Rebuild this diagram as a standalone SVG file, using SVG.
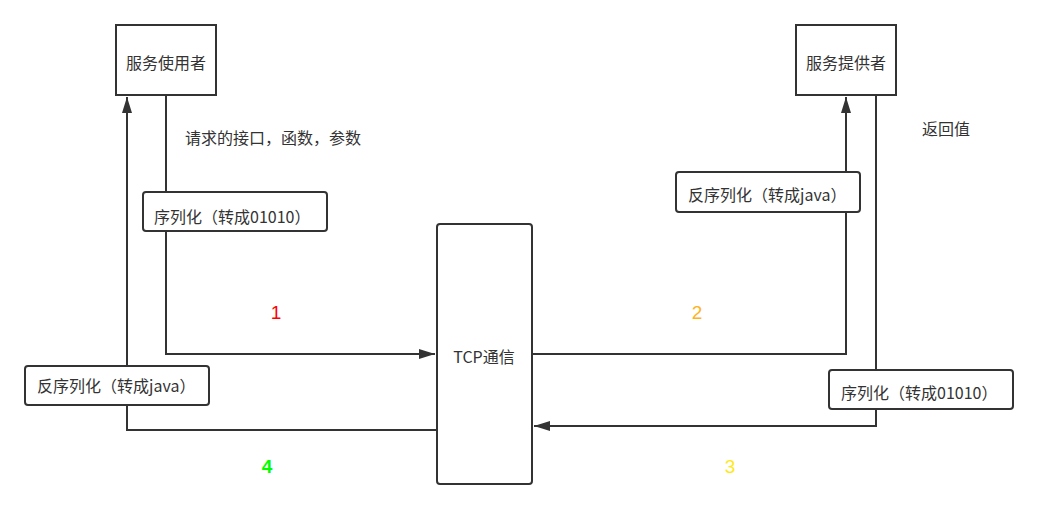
<svg xmlns="http://www.w3.org/2000/svg" width="1038" height="509" viewBox="0 0 1038 509">
<style>
.box{fill:#fff;stroke:#333;stroke-width:2}
.lbl{fill:#fff;stroke:#333;stroke-width:2}
.t{font-family:"Noto Sans CJK SC","Liberation Sans",sans-serif;font-size:16px;fill:#333}
.n{font-family:"Liberation Sans","Noto Sans CJK SC",sans-serif;font-size:19px;text-anchor:middle}
.c{fill:none;stroke:#333;stroke-width:2}
</style>
<defs>
<marker id="a" viewBox="0 0 16 10" refX="16" refY="5" markerWidth="16" markerHeight="10" markerUnits="userSpaceOnUse" orient="auto">
<path d="M0,0 L16,5 L0,10 Z" fill="#333"/>
</marker>
</defs>
<g id="connectors">
<path class="c" d="M166,95 V354 H435" marker-end="url(#a)"/>
<path class="c" d="M532,354 H846 V97" marker-end="url(#a)"/>
<path class="c" d="M876,93 V426 H534" marker-end="url(#a)"/>
<path class="c" d="M436,430 H127 V97" marker-end="url(#a)"/>
</g>
<g id="consumer">
<rect class="box" x="116" y="25" width="100" height="70"/>
<text class="t" x="166" y="69" text-anchor="middle">服务使用者</text>
</g>
<g id="provider">
<rect class="box" x="796" y="25" width="100" height="70"/>
<text class="t" x="846" y="69" text-anchor="middle">服务提供者</text>
</g>
<g id="tcp">
<rect class="box" x="437" y="224" width="95" height="260" rx="3"/>
<text class="t" x="484" y="363" text-anchor="middle">TCP通信</text>
</g>
<g id="ser1">
<rect class="lbl" x="143" y="192" width="184" height="39" rx="3"/>
<text class="t" x="154" y="223">序列化（转成01010）</text>
</g>
<g id="deser2">
<rect class="lbl" x="676" y="172" width="184" height="40" rx="3"/>
<text class="t" x="688" y="201">反序列化（转成java）</text>
</g>
<g id="ser3">
<rect class="lbl" x="829" y="370" width="184" height="39" rx="3"/>
<text class="t" x="841" y="399">序列化（转成01010）</text>
</g>
<g id="deser4">
<rect class="lbl" x="25" y="366" width="184" height="39" rx="3"/>
<text class="t" x="37" y="392">反序列化（转成java）</text>
</g>
<g id="labels">
<text class="t" x="185" y="144">请求的接口，函数，参数</text>
<text class="t" x="922" y="135">返回值</text>
<text class="n" x="276" y="319" fill="#FF0000">1</text>
<text class="n" x="697" y="319" fill="#FFB31A">2</text>
<text class="n" x="730" y="473" fill="#FFE81A">3</text>
<text class="n" x="267" y="473" fill="#00FF00" font-weight="bold">4</text>
</g>
</svg>
